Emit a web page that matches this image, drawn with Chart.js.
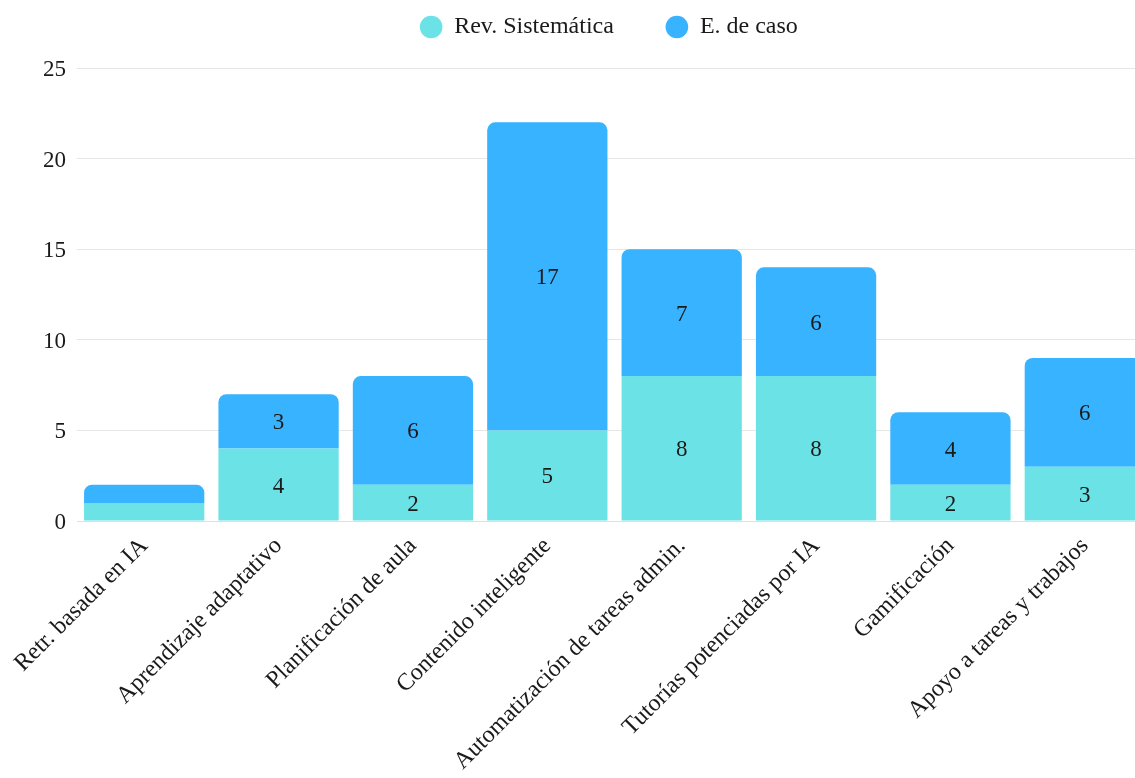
<!DOCTYPE html>
<html>
<head>
<meta charset="utf-8">
<script src="https://cdn.jsdelivr.net/npm/chart.js@4"></script>
<style>
  body { margin: 0; overflow: hidden; background: #fff; }
</style>
</head>
<body>
<canvas id="chart" width="1216" height="778"></canvas>
<script>
const categories = ['Retr. basada en IA', 'Aprendizaje adaptativo', 'Planificación de aula', 'Contenido inteligente',
  'Automatización de tareas admin.', 'Tutorías potenciadas por IA', 'Gamificación', 'Apoyo a tareas y trabajos'];
const revSistematica = [1, 4, 2, 5, 8, 8, 2, 3];
const estudioCaso = [1, 3, 6, 17, 7, 6, 4, 6];
const yTicks = [0, 5, 10, 15, 20, 25];

const FONT = "'Liberation Serif', 'DejaVu Serif', serif";

// numbers written in the middle of each segment
const segmentLabels = {
  id: 'segmentLabels',
  afterDatasetsDraw(chart) {
    const ctx = chart.ctx;
    ctx.save();
    ctx.font = '23px ' + FONT;
    ctx.fillStyle = '#1a1a1a';
    ctx.textAlign = 'center';
    ctx.textBaseline = 'middle';
    chart.data.datasets.forEach(function (ds, i) {
      chart.getDatasetMeta(i).data.forEach(function (bar, j) {
        const v = ds.data[j];
        if (v < 2) return;
        ctx.fillText(String(v), bar.x, (bar.y + bar.base) / 2 + 2);
      });
    });
    ctx.restore();
  }
};

// fixed height for the legend row, drawn a bit higher and to the right
const legendSpace = {
  id: 'legendSpace',
  beforeUpdate(chart) {
    const legend = chart.legend;
    if (!legend || legend._spaced) return;
    const fit = legend.fit;
    legend.fit = function () {
      fit.call(this);
      this.height = 62;
    };
    legend.draw = function () {
      if (!this.options.display) return;
      this.ctx.save();
      this.ctx.translate(33, -43);
      this._draw();
      this.ctx.restore();
    };
    legend._spaced = true;
  }
};

new Chart(document.getElementById('chart'), {
  type: 'bar',
  data: {
    labels: categories,
    datasets: [{
      label: 'Rev. Sistemática',
      data: revSistematica,
      backgroundColor: '#6be2e6',
      borderWidth: 0
    }, {
      label: 'E. de caso',
      data: estudioCaso,
      backgroundColor: '#38b3ff',
      borderWidth: 0,
      borderRadius: { topLeft: 8, topRight: 8 },
      borderSkipped: false
    }]
  },
  options: {
    responsive: false,
    animation: false,
    layout: { padding: { right: 64, top: 6 } },
    datasets: { bar: { categoryPercentage: 0.895, barPercentage: 1 } },
    plugins: {
      legend: {
        labels: {
          usePointStyle: true,
          pointStyle: 'circle',
          boxWidth: 22,
          boxHeight: 16,
          padding: 52,
          color: '#1a1a1a',
          font: { family: FONT, size: 24 }
        }
      },
      tooltip: { enabled: false }
    },
    scales: {
      x: {
        stacked: true,
        grid: { display: false },
        border: { color: '#e0e0e0' },
        afterFit(axis) { axis.height = 257; },
        ticks: {
          maxRotation: 45,
          minRotation: 45,
          color: '#1a1a1a',
          font: { family: FONT, size: 24 }
        }
      },
      y: {
        stacked: true,
        min: 0,
        max: 25,
        afterBuildTicks(axis) { axis.ticks = yTicks.map(v => ({ value: v })); },
        afterFit(axis) { axis.width = 77; },
        grid: { color: '#e6e6e6', drawTicks: false },
        border: { display: false },
        ticks: {
          padding: 11,
          labelOffset: 2,
          color: '#1a1a1a',
          font: { family: FONT, size: 23 }
        }
      }
    }
  },
  plugins: [segmentLabels, legendSpace]
});
</script>
</body>
</html>
